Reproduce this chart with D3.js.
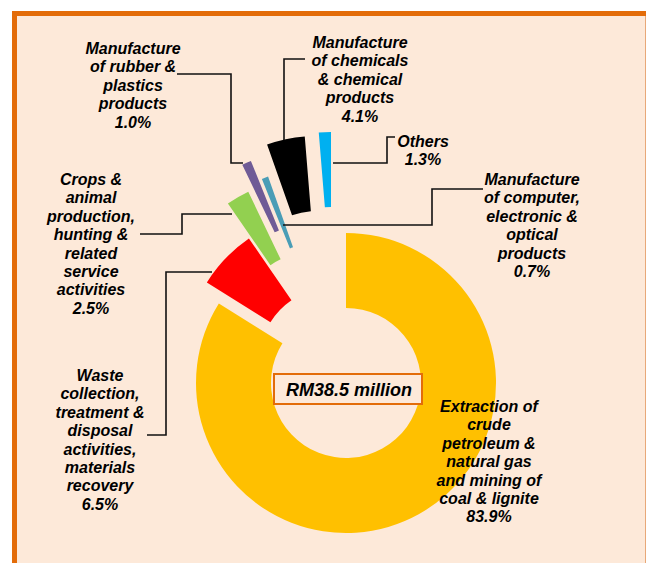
<!DOCTYPE html>
<html>
<head>
<meta charset="utf-8">
<script src="https://cdn.jsdelivr.net/npm/d3@7"></script>
<style>
  html, body { margin: 0; padding: 0; background: #ffffff; }
  svg { display: block; }
  .lbl { font-family: "Liberation Sans", Arial, sans-serif; font-weight: bold; font-style: italic; font-size: 16px; fill: #000; }
</style>
</head>
<body>
<div id="chart"></div>
<script>
// data
const categories = [
  'Extraction of\ncrude\npetroleum &\nnatural gas\nand mining of\ncoal & lignite',
  'Waste\ncollection,\ntreatment &\ndisposal\nactivities,\nmaterials\nrecovery',
  'Crops &\nanimal\nproduction,\nhunting &\nrelated\nservice\nactivities',
  'Manufacture\nof rubber &\nplastics\nproducts',
  'Manufacture\nof computer,\nelectronic &\noptical\nproducts',
  'Manufacture\nof chemicals\n& chemical\nproducts',
  'Others'
];
const shares = [83.9, 6.5, 2.5, 1.0, 0.7, 4.1, 1.3];
const totalLabel = 'RM38.5 million';

// styles / layout
const colors = ['#FFC000', '#FF0000', '#92D050', '#6F5B96', '#4A9DB6', '#000000', '#00B0F0'];
const explode = [[0, 0], [-12, -21], [-33, -56], [-39, -83], [-28, -65], [-29, -97], [-15, -101]];
const labelPos = [[489, 412], [100, 381], [91, 185], [133, 54], [532, 185], [360, 48], [423, 147]];
const leaders = [
  null,
  [[147, 435], [166, 435], [166, 272], [212, 272]],
  [[140, 234], [182, 234], [182, 214], [232, 214]],
  [[177, 74], [231, 74], [231, 163], [243, 163]],
  [[483, 189], [432, 189], [432, 225], [283, 225]],
  [[305, 59], [284, 59], [284, 140]],
  [[333, 163], [387, 163], [387, 137], [395, 137]]
];

const W = 646, H = 563;
const cx = 346, cy = 383;
const lineH = 18.4;

const svg = d3.select('#chart').append('svg')
  .attr('width', W).attr('height', H);

// panel
svg.append('rect').attr('x', 12).attr('y', 11).attr('width', W - 12).attr('height', H - 11)
  .attr('fill', '#FDE9D9');
svg.append('line').attr('x1', W - 0.5).attr('x2', W - 0.5).attr('y1', 11).attr('y2', H)
  .attr('stroke', '#E8A878').attr('stroke-width', 1);
svg.append('rect').attr('x', 12).attr('y', 11).attr('width', W - 12).attr('height', 5)
  .attr('fill', '#E36C09');
svg.append('rect').attr('x', 12).attr('y', 11).attr('width', 5).attr('height', H - 11)
  .attr('fill', '#E36C09');

// doughnut
const pie = d3.pie().sort(null).value((d) => d);
const arc = d3.arc().innerRadius(75).outerRadius(150);
const arcs = pie(shares);

const g = svg.append('g').attr('transform', `translate(${cx},${cy})`);
g.selectAll('path')
  .data(arcs)
  .join('path')
  .attr('d', arc)
  .attr('fill', (d, i) => colors[i])
  .attr('transform', (d, i) => `translate(${explode[i][0]},${explode[i][1]})`);

// leader lines
const lineGen = d3.line();
svg.selectAll('path.leader')
  .data(leaders.filter((l) => l))
  .join('path')
  .attr('class', 'leader')
  .attr('d', lineGen)
  .attr('fill', 'none')
  .attr('stroke', '#111')
  .attr('stroke-width', 1.6);

// labels
categories.forEach((c, i) => {
  const lines = c.split('\n').concat(`${shares[i].toFixed(1)}%`);
  const t = svg.append('text').attr('class', 'lbl')
    .attr('text-anchor', 'middle')
    .attr('x', labelPos[i][0]).attr('y', labelPos[i][1]);
  lines.forEach((l, j) => {
    t.append('tspan').attr('x', labelPos[i][0]).attr('y', labelPos[i][1] + j * lineH).text(l);
  });
});

// centre box
svg.append('rect').attr('x', 274).attr('y', 374).attr('width', 148).attr('height', 30)
  .attr('fill', '#FDE9D9').attr('stroke', '#E36C09').attr('stroke-width', 2);
svg.append('text').attr('class', 'lbl')
  .attr('x', 349).attr('y', 396)
  .attr('text-anchor', 'middle')
  .style('font-size', '18px')
  .text(totalLabel);
</script>
</body>
</html>
